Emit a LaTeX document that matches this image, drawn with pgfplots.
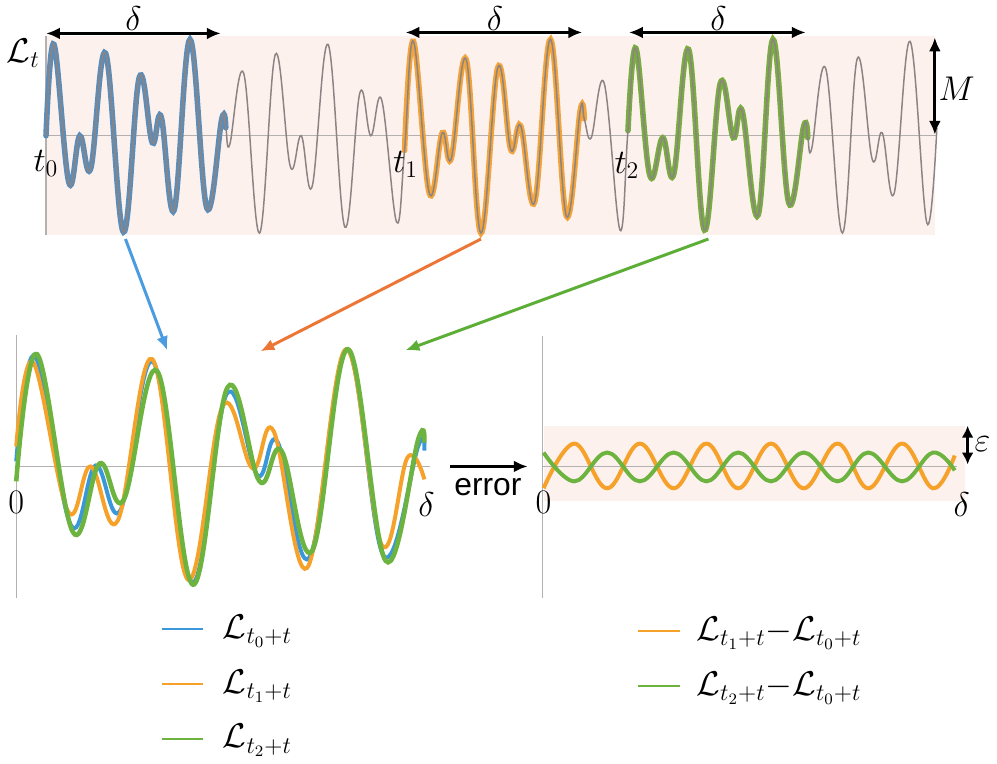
\documentclass[border=0pt]{standalone}
\usepackage{fontspec}
\newfontfamily\sansf{Liberation Sans}
\usepackage{pgfplots}
\usepackage{pgfplotstable}
\pgfplotsset{compat=1.18}
\usetikzlibrary{arrows.meta}

\definecolor{pinkbg}{HTML}{FDF1EE}
\definecolor{sig}{HTML}{8C8484}
\definecolor{segblue}{HTML}{5B8DB8}
\definecolor{segorange}{HTML}{F2A33A}
\definecolor{seggreen}{HTML}{79AD3F}
\definecolor{cblue}{HTML}{3A97DA}
\definecolor{corange}{HTML}{F5A12A}
\definecolor{cgreen}{HTML}{6DB33F}
\definecolor{ablue}{HTML}{4A9BE0}
\definecolor{aorange}{HTML}{EC7636}
\definecolor{agreen}{HTML}{5DAE36}
\definecolor{axgray}{HTML}{B4B0B0}

\newcommand\lab{\fontsize{17}{20}\selectfont}

% whole signal, picture pixels (y grows downward)
\pgfplotstableread{
x y
45 135
53 43
68 182
79 135
90 168
105 52
123 232
139 76
152 142
161 116
174 210
190 38
207 208
222 118
226 127
230 144
244 72
260 233
276 53
291 166
302 135
313 186
329 43
346 227
361 92
372 135
383 99
398 222
406 150
415 40
431 193
444 132
453 158
468 58
483 233
500 66
513 149
523 125
537 202
553 38
569 216
583 109
587 118
594 137
607 82
623 230
631 130
639 47
653 175
666 137
677 174
692 48
708 230
724 82
737 137
746 110
762 215
777 38
793 203
808 125
812 137
816 148
830 67
847 233
862 57
877 159
887 132
899 193
915 40
932 223
942 127
}\signal

\pgfplotstableread{
x y
15 463
34 357
70 527
95 467
120 512
153 363
192 585
227 395
258 477
278 443
310 560
348 350
385 558
420 447
426 452
}\winzero

\pgfplotstableread{
x y
15 448
32 363
67 513
90 468
117 523
152 360
188 582
223 407
253 470
274 432
308 570
347 350
383 547
409 459
426 481
}\winone

\pgfplotstableread{
x y
15 483
36 355
72 534
99 465
123 502
157 372
193 587
228 388
260 483
282 452
313 553
349 350
387 563
420 440
426 444
}\wintwo

% error curves: extrema only
\pgfplotstableread{
x y
546 490
577 445
610 490
643 445
677 490
710 445
742 490
775 445
808 490
842 445
873 490
907 445
938 490
960 457
}\errone

\pgfplotstableread{
x y
546 454
577 483
610 454
643 483
677 454
710 483
742 454
775 483
808 454
842 483
873 454
907 483
938 454
960 472
}\errtwo

\begin{document}
\begin{tikzpicture}
\begin{axis}[
  scale only axis, width=498.5pt, height=383.5pt,
  xmin=0, xmax=997, ymin=0, ymax=767, y dir=reverse,
  hide axis, clip=false,
]
\path (0,0) rectangle (997,767);
% backgrounds
\fill[pinkbg] (45,35) rectangle (940,235);
\fill[pinkbg] (546,427) rectangle (970,503);
\draw[axgray, line width=0.5pt] (45,135) -- (942,135);
\draw[axgray, line width=0.6pt] (45,35) -- (45,235);
\draw[axgray, line width=0.6pt] (15,336) -- (15,600);
\draw[axgray, line width=0.6pt] (15,468) -- (432,468);
\draw[axgray, line width=0.6pt] (545,337) -- (545,600);
\draw[axgray, line width=0.6pt] (545,468) -- (962,468);

% top signal
\addplot[segblue, line width=2.8pt, smooth, tension=0.65, line cap=round, restrict x to domain=45:226] table {\signal};
\addplot[segorange, line width=2.8pt, smooth, tension=0.65, line cap=round, restrict x to domain=406:587] table {\signal};
\addplot[seggreen, line width=2.8pt, smooth, tension=0.65, line cap=round, restrict x to domain=631:812] table {\signal};
\addplot[sig, line width=0.75pt, smooth, tension=0.65] table {\signal};

% windows
\addplot[cblue, line width=2pt, smooth, tension=0.65] table {\winzero};
\addplot[corange, line width=2pt, smooth, tension=0.65] table {\winone};
\addplot[cgreen, line width=2.3pt, smooth, tension=0.65] table {\wintwo};

% errors
\addplot[corange, line width=2pt, smooth, tension=0.65] table {\errone};
\addplot[cgreen, line width=2pt, smooth, tension=0.65] table {\errtwo};

% arrows
\draw[{Latex[length=7pt,width=6pt]}-{Latex[length=7pt,width=6pt]}, line width=1.5pt] (45,32) -- (221,32);
\draw[{Latex[length=7pt,width=6pt]}-{Latex[length=7pt,width=6pt]}, line width=1.5pt] (407,31) -- (585,31);
\draw[{Latex[length=7pt,width=6pt]}-{Latex[length=7pt,width=6pt]}, line width=1.5pt] (632,31) -- (810,31);
\draw[{Latex[length=7pt,width=6pt]}-{Latex[length=7pt,width=6pt]}, line width=1.5pt] (940,36) -- (940,134);
\draw[{Latex[length=6pt,width=6pt]}-{Latex[length=6pt,width=6pt]}, line width=1.5pt] (973,427) -- (973,466);
\draw[-{Latex[length=7pt,width=6pt]}, line width=1.5pt] (452,468) -- (530,468);
\draw[ablue, line width=1.5pt, -{Latex[length=7pt,width=6pt]}] (125,239) -- (167,351);
\draw[aorange, line width=1.5pt, -{Latex[length=7pt,width=6pt]}] (483,239) -- (261,352);
\draw[agreen, line width=1.5pt, -{Latex[length=7pt,width=6pt]}] (712,239) -- (407,351);

% labels
\node[font=\lab] at (133,17) {$\delta$};
\node[font=\lab] at (497,17) {$\delta$};
\node[font=\lab] at (722,17) {$\delta$};
\node[font=\lab] at (22,52) {$\mathcal{L}_t$};
\node[font=\lab] at (962,88) {$M$};
\node[font=\lab] at (45,163) {$t_0$};
\node[font=\lab] at (407,164) {$t_1$};
\node[font=\lab] at (630,165) {$t_2$};
\node[font=\lab] at (15,504) {$0$};
\node[font=\lab] at (428,506) {$\delta$};
\node[font=\lab] at (546,504) {$0$};
\node[font=\lab] at (967,506) {$\delta$};
\node[font=\lab] at (988,446) {$\varepsilon$};
\node[font=\sansf\fontsize{16}{19}\selectfont] at (490,489) {error};

% legends
\draw[cblue, line width=1pt] (162,632) -- (203,632);
\draw[corange, line width=1pt] (162,687) -- (203,687);
\draw[cgreen, line width=1pt] (162,742) -- (203,742);
\node[font=\lab, anchor=west] at (216,634) {$\mathcal{L}_{t_0+t}$};
\node[font=\lab, anchor=west] at (216,689) {$\mathcal{L}_{t_1+t}$};
\node[font=\lab, anchor=west] at (216,744) {$\mathcal{L}_{t_2+t}$};
\draw[corange, line width=1pt] (641,634) -- (683,634);
\draw[cgreen, line width=1pt] (641,689) -- (683,689);
\node[font=\lab, anchor=west] at (693,636) {$\mathcal{L}_{t_1+t}{-}\mathcal{L}_{t_0+t}$};
\node[font=\lab, anchor=west] at (693,691) {$\mathcal{L}_{t_2+t}{-}\mathcal{L}_{t_0+t}$};
\end{axis}
\end{tikzpicture}
\end{document}
